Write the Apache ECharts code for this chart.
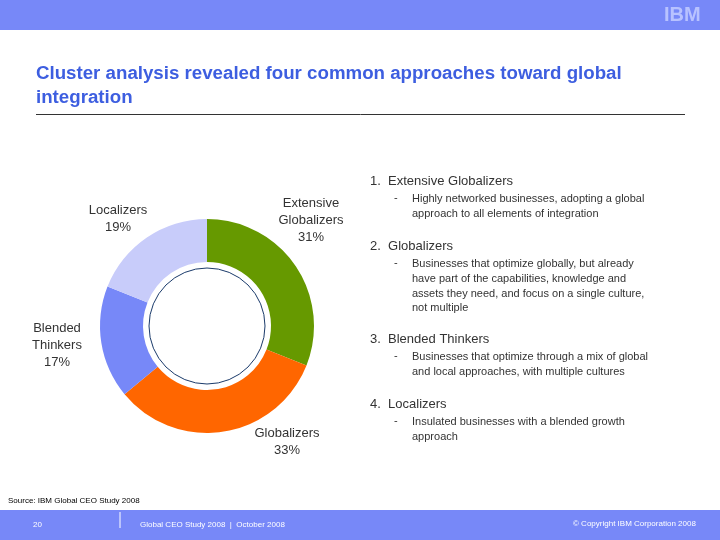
<!DOCTYPE html>
<html><head><meta charset="utf-8">
<script src="https://cdn.jsdelivr.net/npm/echarts@6/dist/echarts.min.js"></script>
<style>html,body{margin:0;padding:0;background:#fff}#c{width:720px;height:540px}</style>
</head><body><div id="c"></div>
<script>
const categories = ['Extensive Globalizers', 'Globalizers', 'Blended Thinkers', 'Localizers'];
const values = [31, 33, 17, 19];
const labelLines = [['Extensive', 'Globalizers'], ['Globalizers'], ['Blended', 'Thinkers'], ['Localizers']];
const descriptions = [
  ['Highly networked businesses, adopting a global', 'approach to all elements of integration'],
  ['Businesses that optimize globally, but already', 'have part of the capabilities, knowledge and', 'assets they need, and focus on a single culture,', 'not multiple'],
  ['Businesses that optimize through a mix of global', 'and local approaches, with multiple cultures'],
  ['Insulated businesses with a blended growth', 'approach']
];
const colors = ['#669900', '#FF6600', '#7788F8', '#C8CCFA'];
const labelPos = [[311, 220], [287, 442], [57, 345], [118, 219]];
const listY = [183, 248, 341, 406];

const F = 'Arial, "Liberation Sans", sans-serif';
const chart = echarts.init(document.getElementById('c'));
const g = [
  {type:'rect', shape:{x:0,y:0,width:720,height:30}, style:{fill:'#7788F8'}},
  {type:'text', left:664, top:5, style:{text:'IBM', font:'bold 20px '+F, fill:'#b8c2ff'}},
  {type:'text', left:36, top:62, style:{text:'Cluster analysis revealed four common approaches toward global\nintegration', font:'bold 18.7px '+F, fill:'#3d5ee0', lineHeight:24}},
  {type:'line', shape:{x1:36,y1:114.5,x2:685,y2:114.5}, style:{stroke:'#333',lineWidth:1}},
  {type:'circle', shape:{cx:207,cy:326,r:58}, style:{fill:'#fff',stroke:'#1a3a6a',lineWidth:1}, z:10},
  {type:'text', left:8, top:497, style:{text:'Source: IBM Global CEO Study 2008', font:'8px '+F, fill:'#000'}},
  {type:'rect', shape:{x:0,y:510,width:720,height:30}, style:{fill:'#7788F8'}},
  {type:'line', shape:{x1:120,y1:512,x2:120,y2:528}, style:{stroke:'#fff',lineWidth:1}},
  {type:'text', left:33, top:521, style:{text:'20', font:'8px '+F, fill:'#fff'}},
  {type:'text', left:140, top:521, style:{text:'Global CEO Study 2008  |  October 2008', font:'8px '+F, fill:'#fff'}},
  {type:'text', left:573, top:520, style:{text:'© Copyright IBM Corporation 2008', font:'8px '+F, fill:'#fff'}}
];
categories.forEach((c,i)=>{
  g.push({type:'text', x:labelPos[i][0], y:labelPos[i][1], style:{text:labelLines[i].join('\n')+'\n'+values[i]+'%', font:'13px '+F, fill:'#333', align:'center', verticalAlign:'middle', lineHeight:17}});
  g.push({type:'text', left:370, top:listY[i]-8, style:{text:(i+1)+'.  '+c, font:'13px '+F, fill:'#333'}});
  g.push({type:'text', left:394, top:listY[i]+9, style:{text:'-', font:'11px '+F, fill:'#333'}});
  g.push({type:'text', left:412, top:listY[i]+9, style:{text:descriptions[i].join('\n'), font:'11px '+F, fill:'#333', lineHeight:14.7}});
});
chart.setOption({
  animation:false,
  graphic:g,
  series:[{type:'pie', center:[207,326], radius:[64,107], startAngle:90, clockwise:true, silent:true,
    label:{show:false}, labelLine:{show:false},
    data:categories.map((c,i)=>({name:c, value:values[i], itemStyle:{color:colors[i]}}))}]
});
</script></body></html>
